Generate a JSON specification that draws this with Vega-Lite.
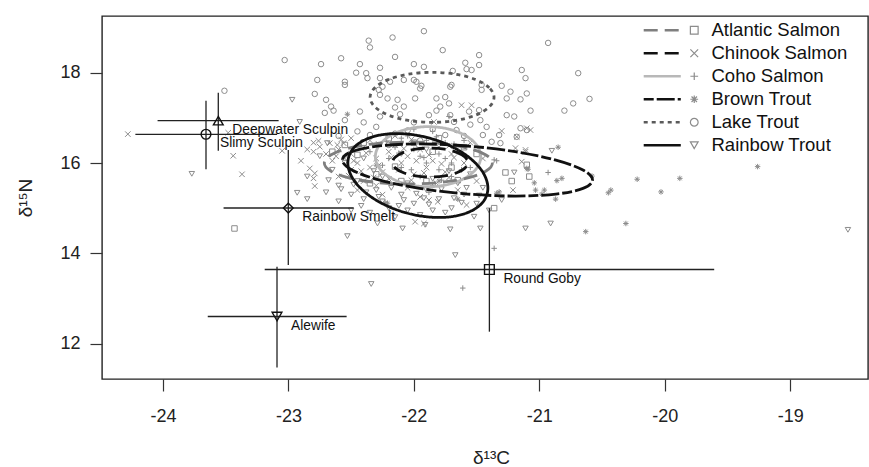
{
 "$schema": "https://vega.github.io/schema/vega-lite/v6.json",
 "width": 766, "height": 363,
 "autosize": {"type": "none"},
 "padding": {"left": 102, "top": 16, "right": 1, "bottom": 88},
 "background": "white",
 "config": {
  "view": {"stroke": "#222", "strokeWidth": 1.4},
  "font": "Liberation Sans",
  "axis": {"grid": false, "domain": false, "tickColor": "#333", "tickWidth": 1.2, "tickSize": 12, "labelFontSize": 18, "labelColor": "#222", "labelFont": "Liberation Sans", "titleFont": "Liberation Sans", "titleFontSize": 19, "titleFontWeight": "normal", "titleColor": "#222", "labelExpr": "replace(datum.label, '−', '-')"}
 },
 "datasets": {
  "pts": [
   {"s":"Lake Trout","x":-21.92,"y":18.92},{"s":"Lake Trout","x":-22.17,"y":18.78},{"s":"Lake Trout","x":-22.36,"y":18.71},{"s":"Lake Trout","x":-22.35,"y":18.56},{"s":"Lake Trout","x":-21.77,"y":18.5},{"s":"Lake Trout","x":-21.48,"y":18.39},{"s":"Lake Trout","x":-20.93,"y":18.66},{"s":"Lake Trout","x":-23.03,"y":18.28},{"s":"Lake Trout","x":-22.74,"y":18.19},{"s":"Lake Trout","x":-22.58,"y":18.32},{"s":"Lake Trout","x":-22.43,"y":18.19},{"s":"Lake Trout","x":-22.27,"y":18.11},{"s":"Lake Trout","x":-22.15,"y":18.35},{"s":"Lake Trout","x":-22.0,"y":18.19},{"s":"Lake Trout","x":-21.92,"y":18.13},{"s":"Lake Trout","x":-21.59,"y":18.22},{"s":"Lake Trout","x":-21.58,"y":18.08},{"s":"Lake Trout","x":-21.48,"y":18.17},{"s":"Lake Trout","x":-21.54,"y":18.06},{"s":"Lake Trout","x":-22.77,"y":17.84},{"s":"Lake Trout","x":-22.55,"y":17.8},{"s":"Lake Trout","x":-22.55,"y":17.73},{"s":"Lake Trout","x":-22.46,"y":18.0},{"s":"Lake Trout","x":-22.38,"y":17.99},{"s":"Lake Trout","x":-22.37,"y":17.88},{"s":"Lake Trout","x":-22.27,"y":17.88},{"s":"Lake Trout","x":-22.25,"y":17.69},{"s":"Lake Trout","x":-22.19,"y":17.8},{"s":"Lake Trout","x":-22.08,"y":17.84},{"s":"Lake Trout","x":-22.0,"y":17.84},{"s":"Lake Trout","x":-21.98,"y":17.8},{"s":"Lake Trout","x":-21.94,"y":17.71},{"s":"Lake Trout","x":-21.69,"y":18.04},{"s":"Lake Trout","x":-21.7,"y":17.73},{"s":"Lake Trout","x":-21.71,"y":17.69},{"s":"Lake Trout","x":-21.46,"y":17.73},{"s":"Lake Trout","x":-21.46,"y":17.62},{"s":"Lake Trout","x":-21.3,"y":17.71},{"s":"Lake Trout","x":-21.14,"y":18.06},{"s":"Lake Trout","x":-21.11,"y":17.88},{"s":"Lake Trout","x":-20.69,"y":17.99},{"s":"Lake Trout","x":-21.23,"y":17.58},{"s":"Lake Trout","x":-21.26,"y":17.43},{"s":"Lake Trout","x":-21.1,"y":17.54},{"s":"Lake Trout","x":-21.15,"y":17.41},{"s":"Lake Trout","x":-20.73,"y":17.32},{"s":"Lake Trout","x":-20.6,"y":17.42},{"s":"Lake Trout","x":-20.8,"y":17.16},{"s":"Lake Trout","x":-21.07,"y":17.16},{"s":"Lake Trout","x":-22.28,"y":17.62},{"s":"Lake Trout","x":-22.27,"y":17.51},{"s":"Lake Trout","x":-22.21,"y":17.43},{"s":"Lake Trout","x":-22.13,"y":17.4},{"s":"Lake Trout","x":-22.15,"y":17.23},{"s":"Lake Trout","x":-21.95,"y":17.65},{"s":"Lake Trout","x":-21.99,"y":17.43},{"s":"Lake Trout","x":-21.82,"y":17.43},{"s":"Lake Trout","x":-21.75,"y":17.46},{"s":"Lake Trout","x":-21.72,"y":17.32},{"s":"Lake Trout","x":-22.7,"y":17.4},{"s":"Lake Trout","x":-22.66,"y":17.25},{"s":"Lake Trout","x":-22.64,"y":17.16},{"s":"Lake Trout","x":-22.71,"y":17.11},{"s":"Lake Trout","x":-22.79,"y":17.53},{"s":"Lake Trout","x":-22.43,"y":17.14},{"s":"Lake Trout","x":-22.27,"y":17.03},{"s":"Lake Trout","x":-22.11,"y":17.08},{"s":"Lake Trout","x":-22.08,"y":17.25},{"s":"Lake Trout","x":-21.88,"y":17.06},{"s":"Lake Trout","x":-21.82,"y":17.16},{"s":"Lake Trout","x":-21.79,"y":17.25},{"s":"Lake Trout","x":-21.71,"y":17.06},{"s":"Lake Trout","x":-21.56,"y":17.14},{"s":"Lake Trout","x":-21.48,"y":17.17},{"s":"Lake Trout","x":-21.68,"y":16.91},{"s":"Lake Trout","x":-21.66,"y":16.73},{"s":"Lake Trout","x":-21.47,"y":16.95},{"s":"Lake Trout","x":-21.42,"y":16.8},{"s":"Lake Trout","x":-21.26,"y":17.06},{"s":"Lake Trout","x":-21.2,"y":17.03},{"s":"Lake Trout","x":-21.32,"y":16.62},{"s":"Lake Trout","x":-21.38,"y":16.47},{"s":"Lake Trout","x":-21.31,"y":16.44},{"s":"Lake Trout","x":-21.15,"y":16.77},{"s":"Lake Trout","x":-21.1,"y":16.73},{"s":"Lake Trout","x":-21.18,"y":16.58},{"s":"Lake Trout","x":-23.51,"y":17.6},{"s":"Lake Trout","x":-22.3,"y":16.8},{"s":"Lake Trout","x":-22.0,"y":16.9},{"s":"Lake Trout","x":-21.85,"y":16.75},{"s":"Lake Trout","x":-22.15,"y":16.65},{"s":"Lake Trout","x":-21.6,"y":16.6},{"s":"Lake Trout","x":-22.45,"y":16.7},{"s":"Lake Trout","x":-21.95,"y":16.5},{"s":"Lake Trout","x":-22.2,"y":16.4},{"s":"Lake Trout","x":-22.55,"y":16.95},{"s":"Lake Trout","x":-22.4,"y":16.9},{"s":"Lake Trout","x":-21.55,"y":16.85},{"s":"Lake Trout","x":-22.35,"y":16.62},{"s":"Lake Trout","x":-21.75,"y":16.62},{"s":"Lake Trout","x":-22.05,"y":16.72},{"s":"Lake Trout","x":-21.45,"y":16.62},{"s":"Lake Trout","x":-22.6,"y":16.6},
   {"s":"Chinook Salmon","x":-24.28,"y":16.64},{"s":"Chinook Salmon","x":-23.48,"y":16.67},{"s":"Chinook Salmon","x":-23.44,"y":16.16},{"s":"Chinook Salmon","x":-23.37,"y":15.75},{"s":"Chinook Salmon","x":-23.05,"y":16.27},{"s":"Chinook Salmon","x":-22.83,"y":15.88},{"s":"Chinook Salmon","x":-22.79,"y":15.77},{"s":"Chinook Salmon","x":-22.8,"y":15.66},{"s":"Chinook Salmon","x":-22.79,"y":15.49},{"s":"Chinook Salmon","x":-22.8,"y":16.45},{"s":"Chinook Salmon","x":-22.76,"y":16.49},{"s":"Chinook Salmon","x":-22.67,"y":16.44},{"s":"Chinook Salmon","x":-22.61,"y":16.4},{"s":"Chinook Salmon","x":-22.56,"y":16.44},{"s":"Chinook Salmon","x":-22.75,"y":16.36},{"s":"Chinook Salmon","x":-22.8,"y":16.25},{"s":"Chinook Salmon","x":-21.62,"y":17.28},{"s":"Chinook Salmon","x":-21.54,"y":17.28},{"s":"Chinook Salmon","x":-21.84,"y":16.91},{"s":"Chinook Salmon","x":-21.3,"y":16.71},{"s":"Chinook Salmon","x":-21.18,"y":16.58},{"s":"Chinook Salmon","x":-21.1,"y":16.77},{"s":"Chinook Salmon","x":-21.07,"y":16.73},{"s":"Chinook Salmon","x":-21.11,"y":16.29},{"s":"Chinook Salmon","x":-21.14,"y":16.03},{"s":"Chinook Salmon","x":-21.21,"y":15.4},{"s":"Chinook Salmon","x":-21.19,"y":16.33},{"s":"Chinook Salmon","x":-21.11,"y":16.25},{"s":"Chinook Salmon","x":-21.88,"y":15.18},{"s":"Chinook Salmon","x":-21.81,"y":15.14},{"s":"Chinook Salmon","x":-21.58,"y":15.07},{"s":"Chinook Salmon","x":-21.99,"y":14.7},{"s":"Chinook Salmon","x":-21.92,"y":14.66},{"s":"Chinook Salmon","x":-22.6,"y":16.3},{"s":"Chinook Salmon","x":-22.5,"y":16.2},{"s":"Chinook Salmon","x":-22.4,"y":16.35},{"s":"Chinook Salmon","x":-22.3,"y":16.1},{"s":"Chinook Salmon","x":-22.2,"y":16.25},{"s":"Chinook Salmon","x":-22.1,"y":16.0},{"s":"Chinook Salmon","x":-22.45,"y":16.0},{"s":"Chinook Salmon","x":-22.35,"y":15.9},{"s":"Chinook Salmon","x":-22.55,"y":16.1},{"s":"Chinook Salmon","x":-22.25,"y":15.8},{"s":"Chinook Salmon","x":-22.15,"y":16.4},{"s":"Chinook Salmon","x":-22.05,"y":16.15},{"s":"Chinook Salmon","x":-21.95,"y":16.3},{"s":"Chinook Salmon","x":-21.85,"y":16.05},{"s":"Chinook Salmon","x":-22.65,"y":16.05},{"s":"Chinook Salmon","x":-22.7,"y":16.2},{"s":"Chinook Salmon","x":-22.5,"y":15.85},{"s":"Chinook Salmon","x":-22.4,"y":15.6},{"s":"Chinook Salmon","x":-22.3,"y":15.5},{"s":"Chinook Salmon","x":-22.6,"y":15.7},{"s":"Chinook Salmon","x":-22.2,"y":15.65},{"s":"Chinook Salmon","x":-22.0,"y":15.75},{"s":"Chinook Salmon","x":-21.9,"y":15.9},{"s":"Chinook Salmon","x":-22.35,"y":16.5},{"s":"Chinook Salmon","x":-22.5,"y":16.55},{"s":"Chinook Salmon","x":-22.15,"y":16.6},{"s":"Chinook Salmon","x":-21.8,"y":16.35},{"s":"Chinook Salmon","x":-21.7,"y":16.2},{"s":"Chinook Salmon","x":-21.6,"y":16.0},{"s":"Chinook Salmon","x":-21.75,"y":15.8},{"s":"Chinook Salmon","x":-22.45,"y":15.4},{"s":"Chinook Salmon","x":-22.25,"y":15.3},{"s":"Chinook Salmon","x":-22.05,"y":15.45},{"s":"Chinook Salmon","x":-21.95,"y":15.25},{"s":"Chinook Salmon","x":-21.65,"y":15.4},{"s":"Chinook Salmon","x":-21.5,"y":15.6},{"s":"Chinook Salmon","x":-21.45,"y":16.1},{"s":"Chinook Salmon","x":-21.55,"y":16.45},{"s":"Chinook Salmon","x":-22.9,"y":16.05},{"s":"Chinook Salmon","x":-22.85,"y":16.3},{"s":"Chinook Salmon","x":-22.62,"y":16.15},{"s":"Chinook Salmon","x":-22.48,"y":16.05},{"s":"Chinook Salmon","x":-22.38,"y":16.22},{"s":"Chinook Salmon","x":-22.28,"y":15.95},{"s":"Chinook Salmon","x":-22.18,"y":16.12},{"s":"Chinook Salmon","x":-22.08,"y":16.32},{"s":"Chinook Salmon","x":-21.98,"y":16.05},{"s":"Chinook Salmon","x":-21.88,"y":16.18},{"s":"Chinook Salmon","x":-21.78,"y":15.98},{"s":"Chinook Salmon","x":-21.68,"y":16.12},{"s":"Chinook Salmon","x":-22.52,"y":15.72},{"s":"Chinook Salmon","x":-22.42,"y":15.82},{"s":"Chinook Salmon","x":-22.32,"y":15.68},{"s":"Chinook Salmon","x":-22.12,"y":15.85},{"s":"Chinook Salmon","x":-22.02,"y":15.62},{"s":"Chinook Salmon","x":-21.92,"y":15.78},{"s":"Chinook Salmon","x":-21.82,"y":15.55},{"s":"Chinook Salmon","x":-21.72,"y":15.68},{"s":"Chinook Salmon","x":-22.58,"y":16.52},{"s":"Chinook Salmon","x":-22.28,"y":16.42},{"s":"Chinook Salmon","x":-22.02,"y":16.52},{"s":"Chinook Salmon","x":-21.72,"y":16.38},
   {"s":"Coho Salmon","x":-21.34,"y":16.05},{"s":"Coho Salmon","x":-20.93,"y":15.79},{"s":"Coho Salmon","x":-21.36,"y":14.11},{"s":"Coho Salmon","x":-21.61,"y":13.23},{"s":"Coho Salmon","x":-21.72,"y":17.03},{"s":"Coho Salmon","x":-21.36,"y":16.07},{"s":"Coho Salmon","x":-21.9,"y":16.5},{"s":"Coho Salmon","x":-22.0,"y":16.3},{"s":"Coho Salmon","x":-21.8,"y":16.2},{"s":"Coho Salmon","x":-21.7,"y":16.0},{"s":"Coho Salmon","x":-22.1,"y":15.9},{"s":"Coho Salmon","x":-21.95,"y":15.7},{"s":"Coho Salmon","x":-21.85,"y":15.5},{"s":"Coho Salmon","x":-22.05,"y":16.6},{"s":"Coho Salmon","x":-21.75,"y":16.45},{"s":"Coho Salmon","x":-21.65,"y":16.25},{"s":"Coho Salmon","x":-22.2,"y":16.1},{"s":"Coho Salmon","x":-21.9,"y":16.0},{"s":"Coho Salmon","x":-21.8,"y":15.85},{"s":"Coho Salmon","x":-22.0,"y":16.75},{"s":"Coho Salmon","x":-21.7,"y":15.7},{"s":"Coho Salmon","x":-22.15,"y":16.35},{"s":"Coho Salmon","x":-21.6,"y":16.5},{"s":"Coho Salmon","x":-21.85,"y":16.7},{"s":"Coho Salmon","x":-22.25,"y":15.95},{"s":"Coho Salmon","x":-21.95,"y":16.15},{"s":"Coho Salmon","x":-22.35,"y":16.25},{"s":"Coho Salmon","x":-21.55,"y":15.9},{"s":"Coho Salmon","x":-22.1,"y":16.55},{"s":"Coho Salmon","x":-21.75,"y":16.1},{"s":"Coho Salmon","x":-21.98,"y":16.42},{"s":"Coho Salmon","x":-21.82,"y":16.58},{"s":"Coho Salmon","x":-22.12,"y":16.22},{"s":"Coho Salmon","x":-21.68,"y":16.42},{"s":"Coho Salmon","x":-21.92,"y":16.12},{"s":"Coho Salmon","x":-22.02,"y":15.85},{"s":"Coho Salmon","x":-21.78,"y":15.62},{"s":"Coho Salmon","x":-21.62,"y":15.85},{"s":"Coho Salmon","x":-22.22,"y":16.48},{"s":"Coho Salmon","x":-21.88,"y":15.35},
   {"s":"Brown Trout","x":-20.85,"y":16.35},{"s":"Brown Trout","x":-21.09,"y":15.86},{"s":"Brown Trout","x":-21.04,"y":15.56},{"s":"Brown Trout","x":-21.03,"y":15.4},{"s":"Brown Trout","x":-20.86,"y":15.61},{"s":"Brown Trout","x":-20.82,"y":15.66},{"s":"Brown Trout","x":-20.98,"y":15.31},{"s":"Brown Trout","x":-20.87,"y":15.2},{"s":"Brown Trout","x":-20.58,"y":15.71},{"s":"Brown Trout","x":-20.43,"y":15.4},{"s":"Brown Trout","x":-20.45,"y":15.34},{"s":"Brown Trout","x":-20.22,"y":15.64},{"s":"Brown Trout","x":-20.03,"y":15.36},{"s":"Brown Trout","x":-19.88,"y":15.66},{"s":"Brown Trout","x":-20.63,"y":14.48},{"s":"Brown Trout","x":-20.31,"y":14.66},{"s":"Brown Trout","x":-21.34,"y":15.33},{"s":"Brown Trout","x":-19.26,"y":15.92},{"s":"Brown Trout","x":-22.53,"y":17.08},{"s":"Brown Trout","x":-22.23,"y":15.12},{"s":"Brown Trout","x":-21.32,"y":15.36},{"s":"Brown Trout","x":-22.21,"y":15.11},{"s":"Brown Trout","x":-21.1,"y":15.88},{"s":"Brown Trout","x":-20.96,"y":15.4},{"s":"Brown Trout","x":-22.0,"y":15.5},{"s":"Brown Trout","x":-21.8,"y":15.6},{"s":"Brown Trout","x":-22.3,"y":15.95},{"s":"Brown Trout","x":-21.65,"y":15.2},
   {"s":"Rainbow Trout","x":-22.97,"y":17.4},{"s":"Rainbow Trout","x":-22.91,"y":16.91},{"s":"Rainbow Trout","x":-23.77,"y":15.76},{"s":"Rainbow Trout","x":-22.93,"y":15.34},{"s":"Rainbow Trout","x":-22.85,"y":15.2},{"s":"Rainbow Trout","x":-22.53,"y":14.38},{"s":"Rainbow Trout","x":-22.29,"y":14.66},{"s":"Rainbow Trout","x":-22.09,"y":14.55},{"s":"Rainbow Trout","x":-21.91,"y":14.63},{"s":"Rainbow Trout","x":-22.69,"y":16.44},{"s":"Rainbow Trout","x":-21.71,"y":14.53},{"s":"Rainbow Trout","x":-21.52,"y":14.81},{"s":"Rainbow Trout","x":-21.47,"y":14.55},{"s":"Rainbow Trout","x":-21.11,"y":14.55},{"s":"Rainbow Trout","x":-20.91,"y":14.66},{"s":"Rainbow Trout","x":-21.67,"y":13.96},{"s":"Rainbow Trout","x":-21.2,"y":15.79},{"s":"Rainbow Trout","x":-20.9,"y":16.27},{"s":"Rainbow Trout","x":-21.3,"y":15.18},{"s":"Rainbow Trout","x":-22.34,"y":13.32},{"s":"Rainbow Trout","x":-18.54,"y":14.52},{"s":"Rainbow Trout","x":-22.6,"y":15.5},{"s":"Rainbow Trout","x":-22.5,"y":15.3},{"s":"Rainbow Trout","x":-22.4,"y":15.2},{"s":"Rainbow Trout","x":-22.3,"y":15.4},{"s":"Rainbow Trout","x":-22.2,"y":15.0},{"s":"Rainbow Trout","x":-22.1,"y":15.3},{"s":"Rainbow Trout","x":-22.0,"y":15.1},{"s":"Rainbow Trout","x":-21.9,"y":15.4},{"s":"Rainbow Trout","x":-21.8,"y":15.2},{"s":"Rainbow Trout","x":-21.7,"y":15.0},{"s":"Rainbow Trout","x":-21.6,"y":15.3},{"s":"Rainbow Trout","x":-21.5,"y":15.1},{"s":"Rainbow Trout","x":-22.35,"y":14.9},{"s":"Rainbow Trout","x":-22.15,"y":14.8},{"s":"Rainbow Trout","x":-21.95,"y":14.85},{"s":"Rainbow Trout","x":-21.75,"y":14.9},{"s":"Rainbow Trout","x":-22.45,"y":15.6},{"s":"Rainbow Trout","x":-22.25,"y":15.7},{"s":"Rainbow Trout","x":-22.05,"y":15.55},{"s":"Rainbow Trout","x":-21.85,"y":15.65},{"s":"Rainbow Trout","x":-21.65,"y":15.55},{"s":"Rainbow Trout","x":-22.65,"y":15.85},{"s":"Rainbow Trout","x":-22.55,"y":16.0},{"s":"Rainbow Trout","x":-22.75,"y":16.15},{"s":"Rainbow Trout","x":-22.4,"y":16.1},{"s":"Rainbow Trout","x":-22.1,"y":16.2},{"s":"Rainbow Trout","x":-21.9,"y":16.3},{"s":"Rainbow Trout","x":-21.55,"y":15.75},{"s":"Rainbow Trout","x":-21.45,"y":15.45},{"s":"Rainbow Trout","x":-22.7,"y":15.35},{"s":"Rainbow Trout","x":-22.85,"y":15.7},{"s":"Rainbow Trout","x":-22.5,"y":14.95},{"s":"Rainbow Trout","x":-21.4,"y":14.95},{"s":"Rainbow Trout","x":-22.25,"y":15.15},{"s":"Rainbow Trout","x":-21.85,"y":14.95},{"s":"Rainbow Trout","x":-22.05,"y":14.95},{"s":"Rainbow Trout","x":-22.6,"y":15.15},{"s":"Rainbow Trout","x":-22.58,"y":15.42},{"s":"Rainbow Trout","x":-22.48,"y":15.52},{"s":"Rainbow Trout","x":-22.38,"y":15.35},{"s":"Rainbow Trout","x":-22.28,"y":15.25},{"s":"Rainbow Trout","x":-22.18,"y":15.45},{"s":"Rainbow Trout","x":-22.08,"y":15.18},{"s":"Rainbow Trout","x":-21.98,"y":15.32},{"s":"Rainbow Trout","x":-21.88,"y":15.08},{"s":"Rainbow Trout","x":-21.78,"y":15.42},{"s":"Rainbow Trout","x":-21.68,"y":15.22},{"s":"Rainbow Trout","x":-21.58,"y":15.45},{"s":"Rainbow Trout","x":-21.48,"y":15.28},{"s":"Rainbow Trout","x":-22.42,"y":15.05},{"s":"Rainbow Trout","x":-22.12,"y":15.05},{"s":"Rainbow Trout","x":-21.92,"y":15.22},{"s":"Rainbow Trout","x":-21.62,"y":15.12},{"s":"Rainbow Trout","x":-22.68,"y":15.62},{"s":"Rainbow Trout","x":-22.32,"y":15.82},{"s":"Rainbow Trout","x":-21.72,"y":15.82},
   {"s":"Atlantic Salmon","x":-23.43,"y":14.55},{"s":"Atlantic Salmon","x":-21.27,"y":15.79},{"s":"Atlantic Salmon","x":-21.22,"y":15.6},{"s":"Atlantic Salmon","x":-21.08,"y":15.7},{"s":"Atlantic Salmon","x":-21.36,"y":15.0},{"s":"Atlantic Salmon","x":-21.1,"y":15.96},{"s":"Atlantic Salmon","x":-22.4,"y":16.45},{"s":"Atlantic Salmon","x":-22.2,"y":16.55},{"s":"Atlantic Salmon","x":-22.0,"y":16.45},{"s":"Atlantic Salmon","x":-21.8,"y":16.55},{"s":"Atlantic Salmon","x":-22.3,"y":15.75},{"s":"Atlantic Salmon","x":-22.1,"y":15.6},{"s":"Atlantic Salmon","x":-21.7,"y":15.9},{"s":"Atlantic Salmon","x":-21.6,"y":16.35},{"s":"Atlantic Salmon","x":-22.55,"y":16.4},{"s":"Atlantic Salmon","x":-21.9,"y":15.6},{"s":"Atlantic Salmon","x":-22.65,"y":16.25},{"s":"Atlantic Salmon","x":-21.5,"y":16.2},{"s":"Atlantic Salmon","x":-22.45,"y":16.18},{"s":"Atlantic Salmon","x":-22.15,"y":15.92},{"s":"Atlantic Salmon","x":-21.85,"y":16.25},{"s":"Atlantic Salmon","x":-22.35,"y":15.55},{"s":"Atlantic Salmon","x":-21.65,"y":15.62}
  ],
  "ell": [
   {"e":"Lake Trout","i":0,"x":-21.361,"y":17.455},{"e":"Lake Trout","i":1,"x":-21.399,"y":17.667},{"e":"Lake Trout","i":2,"x":-21.506,"y":17.847},{"e":"Lake Trout","i":3,"x":-21.666,"y":17.967},{"e":"Lake Trout","i":4,"x":-21.855,"y":18.009},{"e":"Lake Trout","i":5,"x":-22.044,"y":17.967},{"e":"Lake Trout","i":6,"x":-22.204,"y":17.847},{"e":"Lake Trout","i":7,"x":-22.311,"y":17.667},{"e":"Lake Trout","i":8,"x":-22.349,"y":17.455},{"e":"Lake Trout","i":9,"x":-22.311,"y":17.243},{"e":"Lake Trout","i":10,"x":-22.204,"y":17.063},{"e":"Lake Trout","i":11,"x":-22.044,"y":16.943},{"e":"Lake Trout","i":12,"x":-21.855,"y":16.901},{"e":"Lake Trout","i":13,"x":-21.666,"y":16.943},{"e":"Lake Trout","i":14,"x":-21.506,"y":17.063},{"e":"Lake Trout","i":15,"x":-21.399,"y":17.243},
   {"e":"Coho Salmon","i":0,"x":-21.467,"y":16.14},{"e":"Coho Salmon","i":1,"x":-21.499,"y":16.395},{"e":"Coho Salmon","i":2,"x":-21.59,"y":16.61},{"e":"Coho Salmon","i":3,"x":-21.726,"y":16.754},{"e":"Coho Salmon","i":4,"x":-21.887,"y":16.805},{"e":"Coho Salmon","i":5,"x":-22.048,"y":16.754},{"e":"Coho Salmon","i":6,"x":-22.184,"y":16.61},{"e":"Coho Salmon","i":7,"x":-22.275,"y":16.395},{"e":"Coho Salmon","i":8,"x":-22.307,"y":16.14},{"e":"Coho Salmon","i":9,"x":-22.275,"y":15.885},{"e":"Coho Salmon","i":10,"x":-22.184,"y":15.67},{"e":"Coho Salmon","i":11,"x":-22.048,"y":15.526},{"e":"Coho Salmon","i":12,"x":-21.887,"y":15.475},{"e":"Coho Salmon","i":13,"x":-21.726,"y":15.526},{"e":"Coho Salmon","i":14,"x":-21.59,"y":15.67},{"e":"Coho Salmon","i":15,"x":-21.499,"y":15.885},
   {"e":"Atlantic Salmon","i":0,"x":-21.374,"y":16.0},{"e":"Atlantic Salmon","i":1,"x":-21.425,"y":16.178},{"e":"Atlantic Salmon","i":2,"x":-21.57,"y":16.329},{"e":"Atlantic Salmon","i":3,"x":-21.787,"y":16.43},{"e":"Atlantic Salmon","i":4,"x":-22.044,"y":16.465},{"e":"Atlantic Salmon","i":5,"x":-22.301,"y":16.43},{"e":"Atlantic Salmon","i":6,"x":-22.518,"y":16.329},{"e":"Atlantic Salmon","i":7,"x":-22.663,"y":16.178},{"e":"Atlantic Salmon","i":8,"x":-22.714,"y":16.0},{"e":"Atlantic Salmon","i":9,"x":-22.663,"y":15.822},{"e":"Atlantic Salmon","i":10,"x":-22.518,"y":15.671},{"e":"Atlantic Salmon","i":11,"x":-22.301,"y":15.57},{"e":"Atlantic Salmon","i":12,"x":-22.044,"y":15.535},{"e":"Atlantic Salmon","i":13,"x":-21.787,"y":15.57},{"e":"Atlantic Salmon","i":14,"x":-21.57,"y":15.671},{"e":"Atlantic Salmon","i":15,"x":-21.425,"y":15.822},
   {"e":"Chinook Salmon","i":0,"x":-21.57,"y":16.01},{"e":"Chinook Salmon","i":1,"x":-21.593,"y":16.133},{"e":"Chinook Salmon","i":2,"x":-21.658,"y":16.236},{"e":"Chinook Salmon","i":3,"x":-21.755,"y":16.306},{"e":"Chinook Salmon","i":4,"x":-21.87,"y":16.33},{"e":"Chinook Salmon","i":5,"x":-21.985,"y":16.306},{"e":"Chinook Salmon","i":6,"x":-22.082,"y":16.236},{"e":"Chinook Salmon","i":7,"x":-22.147,"y":16.133},{"e":"Chinook Salmon","i":8,"x":-22.17,"y":16.01},{"e":"Chinook Salmon","i":9,"x":-22.147,"y":15.887},{"e":"Chinook Salmon","i":10,"x":-22.082,"y":15.784},{"e":"Chinook Salmon","i":11,"x":-21.985,"y":15.714},{"e":"Chinook Salmon","i":12,"x":-21.87,"y":15.69},{"e":"Chinook Salmon","i":13,"x":-21.755,"y":15.714},{"e":"Chinook Salmon","i":14,"x":-21.658,"y":15.784},{"e":"Chinook Salmon","i":15,"x":-21.593,"y":15.887},
   {"e":"Brown Trout","i":0,"x":-20.576,"y":15.624},{"e":"Brown Trout","i":1,"x":-20.652,"y":15.845},{"e":"Brown Trout","i":2,"x":-20.868,"y":16.064},{"e":"Brown Trout","i":3,"x":-21.191,"y":16.252},{"e":"Brown Trout","i":4,"x":-21.573,"y":16.377},{"e":"Brown Trout","i":5,"x":-21.955,"y":16.422},{"e":"Brown Trout","i":6,"x":-22.278,"y":16.378},{"e":"Brown Trout","i":7,"x":-22.494,"y":16.253},{"e":"Brown Trout","i":8,"x":-22.57,"y":16.066},{"e":"Brown Trout","i":9,"x":-22.494,"y":15.845},{"e":"Brown Trout","i":10,"x":-22.278,"y":15.626},{"e":"Brown Trout","i":11,"x":-21.955,"y":15.438},{"e":"Brown Trout","i":12,"x":-21.573,"y":15.313},{"e":"Brown Trout","i":13,"x":-21.191,"y":15.268},{"e":"Brown Trout","i":14,"x":-20.868,"y":15.312},{"e":"Brown Trout","i":15,"x":-20.652,"y":15.437},
   {"e":"Rainbow Trout","i":0,"x":-21.41,"y":15.444},{"e":"Rainbow Trout","i":1,"x":-21.452,"y":15.804},{"e":"Rainbow Trout","i":2,"x":-21.573,"y":16.152},{"e":"Rainbow Trout","i":3,"x":-21.754,"y":16.435},{"e":"Rainbow Trout","i":4,"x":-21.968,"y":16.609},{"e":"Rainbow Trout","i":5,"x":-22.182,"y":16.649},{"e":"Rainbow Trout","i":6,"x":-22.363,"y":16.546},{"e":"Rainbow Trout","i":7,"x":-22.484,"y":16.32},{"e":"Rainbow Trout","i":8,"x":-22.526,"y":16.002},{"e":"Rainbow Trout","i":9,"x":-22.484,"y":15.642},{"e":"Rainbow Trout","i":10,"x":-22.363,"y":15.294},{"e":"Rainbow Trout","i":11,"x":-22.182,"y":15.011},{"e":"Rainbow Trout","i":12,"x":-21.968,"y":14.837},{"e":"Rainbow Trout","i":13,"x":-21.754,"y":14.797},{"e":"Rainbow Trout","i":14,"x":-21.573,"y":14.9},{"e":"Rainbow Trout","i":15,"x":-21.452,"y":15.126}
  ],
  "prey": [
   {"name":"Deepwater Sculpin","shp":"triangle-up","x":-23.559,"y":16.937,"xlo":-24.043,"xhi":-23.078,"ylo":16.272,"yhi":17.557},
   {"name":"Slimy Sculpin","shp":"circle","x":-23.657,"y":16.636,"xlo":-24.22,"xhi":-23.09,"ylo":15.86,"yhi":17.38},
   {"name":"Rainbow Smelt","shp":"diamond","x":-23.001,"y":15.003,"xlo":-23.517,"xhi":-22.48,"ylo":13.741,"yhi":16.288},
   {"name":"Round Goby","shp":"square","x":-21.398,"y":13.641,"xlo":-23.189,"xhi":-19.606,"ylo":12.264,"yhi":15.0},
   {"name":"Alewife","shp":"triangle-down","x":-23.091,"y":12.6,"xlo":-23.643,"xhi":-22.536,"ylo":11.47,"yhi":13.7}
  ]
 },
 "layer": [
  {
   "data": {"name": "pts"},
   "mark": {"type": "point", "filled": false, "color": "#8c8c8c", "strokeWidth": 1, "size": 30, "opacity": 1},
   "encoding": {
    "x": {"field": "x", "type": "quantitative", "scale": {"domain": [-24.486, -18.38], "nice": false, "zero": false}, "axis": {"values": [-24, -23, -22, -21, -20, -19], "title": "δ¹³C", "labelPadding": 16, "titleBaseline": "alphabetic", "titleY": 84, "titleX": 389}},
    "y": {"field": "y", "type": "quantitative", "scale": {"domain": [11.216, 19.256], "nice": false, "zero": false}, "axis": {"values": [12, 14, 16, 18], "title": "δ¹⁵N", "labelPadding": 10, "titleX": -77, "titleY": 181.5, "titleBaseline": "middle"}},
    "shape": {"field": "s", "type": "nominal",
     "scale": {"domain": ["Atlantic Salmon", "Chinook Salmon", "Coho Salmon", "Brown Trout", "Lake Trout", "Rainbow Trout"],
      "range": ["square", "M-1,-1L1,1M-1,1L1,-1", "M-1,0L1,0M0,-1L0,1", "M-1,0L1,0M0,-1L0,1M-0.7,-0.7L0.7,0.7M-0.7,0.7L0.7,-0.7", "circle", "triangle-down"]},
     "legend": {"orient": "none", "legendX": 583, "legendY": 5, "title": null, "symbolSize": 60, "symbolStrokeColor": "#8c8c8c", "symbolStrokeWidth": 1.2, "symbolFillColor": "transparent", "labelFontSize": 18.5, "labelOffset": 8, "rowPadding": 4, "padding": 0, "labelColor": "#111", "labelFont": "Liberation Sans", "labelLimit": 300}}
   }
  },
  {
   "data": {"name": "ell"},
   "mark": {"type": "line", "interpolate": "cardinal-closed", "strokeWidth": 2.8},
   "encoding": {
    "x": {"field": "x", "type": "quantitative", "scale": {"domain": [-24.486, -18.38], "nice": false, "zero": false}, "axis": {"values": [-24, -23, -22, -21, -20, -19], "title": "δ¹³C", "labelPadding": 16, "titleBaseline": "alphabetic", "titleY": 84, "titleX": 389}},
    "y": {"field": "y", "type": "quantitative", "scale": {"domain": [11.216, 19.256], "nice": false, "zero": false}, "axis": {"values": [12, 14, 16, 18], "title": "δ¹⁵N", "labelPadding": 10, "titleX": -77, "titleY": 181.5, "titleBaseline": "middle"}},
    "order": {"field": "i", "type": "quantitative"},
    "color": {"field": "e", "type": "nominal",
     "scale": {"domain": ["Atlantic Salmon", "Chinook Salmon", "Coho Salmon", "Brown Trout", "Lake Trout", "Rainbow Trout"], "range": ["#7f7f7f", "#111111", "#b8b8b8", "#111111", "#5a5a5a", "#111111"]},
     "legend": {"orient": "none", "legendX": 551, "legendY": 5, "title": null, "symbolType": "M-5,0L5,0", "symbolSize": 55, "symbolStrokeWidth": 2.6, "labelExpr": "' '", "labelFontSize": 18.5, "rowPadding": 4, "padding": 0, "labelLimit": 300,
      "encode": {"symbols": {"update": {"strokeDash": {"signal": "datum.value === 'Lake Trout' ? [4,4] : (datum.value === 'Coho Salmon' || datum.value === 'Rainbow Trout') ? [1,0] : datum.value === 'Brown Trout' ? [10,3,18,3] : [14,7]"}}}}}},
    "strokeDash": {"field": "e", "type": "nominal",
     "scale": {"domain": ["Atlantic Salmon", "Chinook Salmon", "Coho Salmon", "Brown Trout", "Lake Trout", "Rainbow Trout"], "range": [[14, 7], [14, 7], [1, 0], [10, 3, 18, 3], [4, 4], [1, 0]]},
     "legend": null}
   }
  },
  {
   "data": {"name": "prey"},
   "mark": {"type": "rule", "color": "#222", "strokeWidth": 1.3},
   "encoding": {
    "x": {"field": "xlo", "type": "quantitative", "scale": {"domain": [-24.486, -18.38], "nice": false, "zero": false}, "axis": {"values": [-24, -23, -22, -21, -20, -19], "title": "δ¹³C", "labelPadding": 16, "titleBaseline": "alphabetic", "titleY": 84, "titleX": 389}},
    "x2": {"field": "xhi"},
    "y": {"field": "y", "type": "quantitative", "scale": {"domain": [11.216, 19.256], "nice": false, "zero": false}, "axis": {"values": [12, 14, 16, 18], "title": "δ¹⁵N", "labelPadding": 10, "titleX": -77, "titleY": 181.5, "titleBaseline": "middle"}}
   }
  },
  {
   "data": {"name": "prey"},
   "mark": {"type": "rule", "color": "#222", "strokeWidth": 1.3},
   "encoding": {
    "x": {"field": "x", "type": "quantitative", "scale": {"domain": [-24.486, -18.38], "nice": false, "zero": false}, "axis": {"values": [-24, -23, -22, -21, -20, -19], "title": "δ¹³C", "labelPadding": 16, "titleBaseline": "alphabetic", "titleY": 84, "titleX": 389}},
    "y": {"field": "ylo", "type": "quantitative", "scale": {"domain": [11.216, 19.256], "nice": false, "zero": false}, "axis": {"values": [12, 14, 16, 18], "title": "δ¹⁵N", "labelPadding": 10, "titleX": -77, "titleY": 181.5, "titleBaseline": "middle"}},
    "y2": {"field": "yhi"}
   }
  },
  {
   "data": {"name": "prey"},
   "mark": {"type": "point", "filled": false, "color": "#111", "strokeWidth": 1.4, "size": 95, "opacity": 1},
   "encoding": {
    "x": {"field": "x", "type": "quantitative", "scale": {"domain": [-24.486, -18.38], "nice": false, "zero": false}, "axis": {"values": [-24, -23, -22, -21, -20, -19], "title": "δ¹³C", "labelPadding": 16, "titleBaseline": "alphabetic", "titleY": 84, "titleX": 389}},
    "y": {"field": "y", "type": "quantitative", "scale": {"domain": [11.216, 19.256], "nice": false, "zero": false}, "axis": {"values": [12, 14, 16, 18], "title": "δ¹⁵N", "labelPadding": 10, "titleX": -77, "titleY": 181.5, "titleBaseline": "middle"}},
    "shape": {"field": "shp", "type": "nominal", "scale": null, "legend": null}
   }
  },
  {
   "data": {"name": "prey"},
   "mark": {"type": "text", "align": "left", "baseline": "middle", "dx": 14, "dy": 9, "fontSize": 13.8, "font": "Liberation Sans", "color": "#111"},
   "encoding": {
    "x": {"field": "x", "type": "quantitative", "scale": {"domain": [-24.486, -18.38], "nice": false, "zero": false}, "axis": {"values": [-24, -23, -22, -21, -20, -19], "title": "δ¹³C", "labelPadding": 16, "titleBaseline": "alphabetic", "titleY": 84, "titleX": 389}},
    "y": {"field": "y", "type": "quantitative", "scale": {"domain": [11.216, 19.256], "nice": false, "zero": false}, "axis": {"values": [12, 14, 16, 18], "title": "δ¹⁵N", "labelPadding": 10, "titleX": -77, "titleY": 181.5, "titleBaseline": "middle"}},
    "text": {"field": "name"}
   }
  }
 ],
 "resolve": {"scale": {"shape": "independent", "color": "independent"}}
}
